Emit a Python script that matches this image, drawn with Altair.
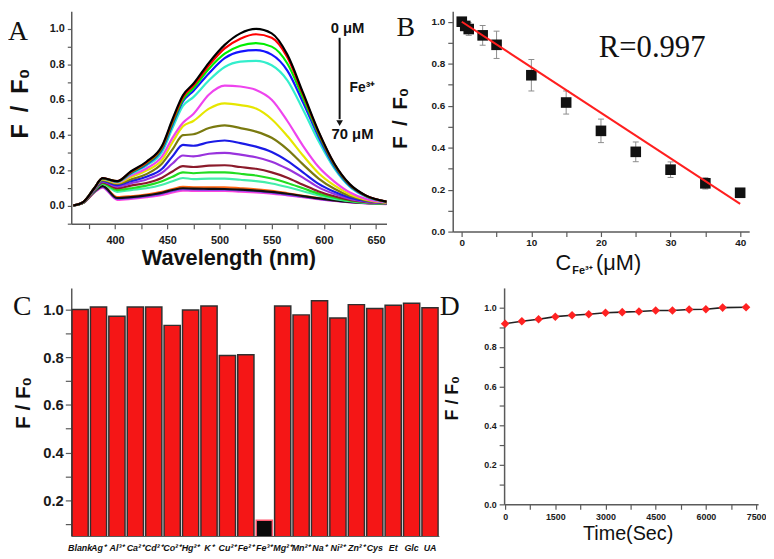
import altair as alt
import pandas as pd

# ---------------- Panel A: emission spectra (F/F0 vs wavelength) ----------------
WAVELENGTH = [360, 370, 380, 388, 402, 415, 430, 445, 455, 465, 475, 490, 505, 520, 535, 550, 565, 580, 595, 610, 625, 640, 660]
S01 = [0.003, 0.025, 0.100, 0.157, 0.140, 0.195, 0.250, 0.340, 0.490, 0.625, 0.690, 0.810, 0.910, 0.975, 1.000, 0.975, 0.855, 0.640, 0.420, 0.240, 0.122, 0.060, 0.025]
S02 = [0.003, 0.025, 0.100, 0.157, 0.140, 0.192, 0.245, 0.335, 0.480, 0.615, 0.680, 0.795, 0.890, 0.945, 0.970, 0.950, 0.840, 0.630, 0.415, 0.237, 0.120, 0.059, 0.025]
S03 = [0.003, 0.025, 0.100, 0.156, 0.139, 0.188, 0.240, 0.328, 0.470, 0.600, 0.665, 0.775, 0.860, 0.905, 0.920, 0.900, 0.805, 0.610, 0.405, 0.232, 0.117, 0.058, 0.024]
S04 = [0.003, 0.025, 0.099, 0.156, 0.138, 0.185, 0.235, 0.320, 0.460, 0.590, 0.650, 0.750, 0.835, 0.872, 0.880, 0.855, 0.765, 0.585, 0.390, 0.224, 0.113, 0.056, 0.024]
S05 = [0.003, 0.025, 0.099, 0.155, 0.136, 0.180, 0.228, 0.305, 0.440, 0.565, 0.615, 0.710, 0.785, 0.815, 0.820, 0.795, 0.710, 0.545, 0.365, 0.212, 0.107, 0.053, 0.023]
S06 = [0.003, 0.024, 0.097, 0.154, 0.133, 0.172, 0.212, 0.280, 0.385, 0.470, 0.520, 0.630, 0.680, 0.675, 0.655, 0.600, 0.480, 0.340, 0.220, 0.138, 0.076, 0.040, 0.020]
S07 = [0.003, 0.024, 0.096, 0.150, 0.130, 0.162, 0.200, 0.260, 0.360, 0.450, 0.480, 0.550, 0.580, 0.570, 0.550, 0.490, 0.395, 0.285, 0.185, 0.116, 0.065, 0.036, 0.019]
S08 = [0.003, 0.023, 0.094, 0.146, 0.125, 0.150, 0.180, 0.240, 0.320, 0.400, 0.405, 0.440, 0.455, 0.440, 0.420, 0.385, 0.320, 0.235, 0.155, 0.097, 0.056, 0.032, 0.018]
S09 = [0.003, 0.023, 0.092, 0.142, 0.118, 0.140, 0.165, 0.210, 0.280, 0.345, 0.340, 0.360, 0.370, 0.355, 0.335, 0.305, 0.255, 0.190, 0.125, 0.080, 0.047, 0.028, 0.016]
S10 = [0.003, 0.022, 0.090, 0.138, 0.110, 0.128, 0.150, 0.188, 0.240, 0.285, 0.280, 0.295, 0.300, 0.290, 0.275, 0.250, 0.210, 0.160, 0.105, 0.068, 0.040, 0.025, 0.015]
S11 = [0.003, 0.022, 0.088, 0.133, 0.100, 0.115, 0.130, 0.160, 0.195, 0.225, 0.220, 0.228, 0.230, 0.220, 0.210, 0.190, 0.160, 0.120, 0.082, 0.055, 0.034, 0.022, 0.014]
S12 = [0.003, 0.021, 0.086, 0.128, 0.090, 0.100, 0.115, 0.140, 0.165, 0.190, 0.185, 0.190, 0.190, 0.182, 0.172, 0.155, 0.130, 0.100, 0.070, 0.047, 0.030, 0.020, 0.013]
S13 = [0.003, 0.021, 0.084, 0.124, 0.080, 0.090, 0.100, 0.120, 0.140, 0.158, 0.152, 0.155, 0.155, 0.148, 0.140, 0.127, 0.107, 0.083, 0.060, 0.040, 0.027, 0.018, 0.012]
S14 = [0.003, 0.020, 0.080, 0.112, 0.045, 0.050, 0.060, 0.075, 0.090, 0.100, 0.098, 0.097, 0.096, 0.092, 0.087, 0.080, 0.069, 0.056, 0.043, 0.032, 0.023, 0.017, 0.011]
S15 = [0.003, 0.020, 0.080, 0.115, 0.050, 0.055, 0.065, 0.080, 0.095, 0.108, 0.106, 0.105, 0.105, 0.100, 0.094, 0.085, 0.072, 0.058, 0.045, 0.033, 0.024, 0.017, 0.011]
S16 = [0.003, 0.020, 0.078, 0.108, 0.040, 0.045, 0.055, 0.070, 0.085, 0.095, 0.093, 0.092, 0.092, 0.088, 0.083, 0.075, 0.064, 0.052, 0.040, 0.030, 0.022, 0.016, 0.011]
S17 = [0.003, 0.019, 0.076, 0.104, 0.035, 0.040, 0.050, 0.063, 0.076, 0.087, 0.085, 0.085, 0.085, 0.081, 0.076, 0.070, 0.060, 0.050, 0.038, 0.028, 0.020, 0.015, 0.010]
SPECTRA = [S01, S02, S03, S04, S05, S06, S07, S08, S09, S10, S11, S12, S13, S14, S15, S16, S17]
SPECTRUM_COLORS = ["#000000", "#ff0000", "#00ee00", "#1414ff", "#33eecc", "#ee44ee", "#e6e600",
                   "#7a7a10", "#1a1ae6", "#9933dd", "#8b1a2a", "#22dd22", "#44eeaa", "#111111",
                   "#ff6611", "#7744ee", "#ff44dd"]

# ---------------- Panel B: calibration ----------------
B_CONC = [0, 0.5, 1, 3, 5, 10, 15, 20, 25, 30, 35, 40]
B_RATIO = [1.0, 0.98, 0.965, 0.935, 0.89, 0.745, 0.615, 0.48, 0.38, 0.295, 0.23, 0.185]
B_ERR = [0.01, 0.02, 0.03, 0.047, 0.065, 0.075, 0.055, 0.056, 0.047, 0.037, 0.027, 0.015]
FIT_CONC = [0, 40]
FIT_RATIO = [1.0, 0.132]

# ---------------- Panel C: selectivity ----------------
C_IONS = ["Blank", "Ag⁺", "Al³⁺", "Ca²⁺", "Cd²⁺", "Co²⁺", "Hg²⁺", "K⁺", "Cu²⁺", "Fe²⁺",
          "Fe³⁺", "Mg²⁺", "Mn²⁺", "Na⁺", "Ni²⁺", "Zn²⁺", "Cys", "Et", "Glc", "UA"]
C_RATIO = [1.0, 1.01, 0.971, 1.01, 1.01, 0.933, 0.997, 1.014, 0.807, 0.81,
           0.116, 1.014, 0.977, 1.036, 0.964, 1.02, 1.004, 1.017, 1.026, 1.007]

# ---------------- Panel D: stability over time ----------------
D_TIME = [0, 500, 1000, 1500, 2000, 2500, 3000, 3500, 4000, 4500, 5000, 5500, 6000, 6500, 7200]
D_RATIO = [0.918, 0.931, 0.941, 0.954, 0.961, 0.966, 0.974, 0.977, 0.980, 0.985, 0.985, 0.990, 0.992, 1.0, 1.002]

SANS = "Liberation Sans"
SERIF = "Liberation Serif"
AXC = "#5a5a5a"
F_WIDE = "F\u2002/\u2002F\u2080"
F_TIGHT = "F / F\u2080"


def tenths(lo, hi):
    return [round(i * 0.1, 1) for i in range(lo, hi + 1)]


def lin_axis(values, fmt, major, size, tick, pad, **extra):
    return alt.Axis(
        values=values, format=fmt,
        labelExpr=f"abs(datum.value / {major} - round(datum.value / {major})) < 0.001 ? datum.label : ''",
        labelFont=SANS, labelFontSize=size, labelFontWeight="bold", labelColor="#1a1a1a",
        tickSize=tick, labelPadding=pad, labelFlush=False, labelOverlap=False,
        grid=False, domainColor=AXC, tickColor=AXC, domainWidth=1.5, tickWidth=1.2,
        **extra)


def ytitle(text, size, x, y):
    return dict(title=text, titleFont=SANS, titleFontSize=size, titleFontWeight="bold",
                titleColor="#111111", titleAngle=270, titleX=x, titleY=y,
                titleAlign="center", titleBaseline="alphabetic")


def xtitle(text, size, x, y, weight="bold"):
    return dict(title=text, titleFont=SANS, titleFontSize=size, titleFontWeight=weight,
                titleColor="#111111", titleAngle=0, titleX=x, titleY=y,
                titleAlign="center", titleBaseline="alphabetic")


def pixel_text(text, x, y, size, font=SERIF, weight="normal", align="left"):
    return alt.Chart(pd.DataFrame({"t": [text]})).mark_text(
        font=font, fontSize=size, fontWeight=weight, align=align,
        baseline="alphabetic", color="#111111"
    ).encode(text="t:N", x=alt.value(x), y=alt.value(y))


# ======== Panel A ========
A_W, A_H = 319, 215
names = [f"s{i + 1:02d}" for i in range(len(SPECTRA))]
rows = []
for i in reversed(range(len(SPECTRA))):
    for w, v in zip(WAVELENGTH, SPECTRA[i]):
        rows.append({"wl": w, "f": v, "series": names[i]})
dfA = pd.DataFrame(rows)

xA = alt.X("wl:Q", scale=alt.Scale(domain=[358, 660], nice=False, zero=False),
           axis=lin_axis(list(range(375, 651, 25)), "d", 50, 11, 5, 6,
                         **xtitle("Wavelength (nm)", 22, 159, 41)))
yA = alt.Y("f:Q", scale=alt.Scale(domain=[-0.1, 1.1], nice=False, zero=False),
           axis=lin_axis(tenths(-1, 10), ".1f", 0.2, 11, 4, 3, **ytitle(F_WIDE, 24, -44, 93)))

spectra = alt.Chart(dfA).mark_line(strokeWidth=2.2, interpolate="monotone").encode(
    x=xA, y=yA,
    color=alt.Color("series:N", scale=alt.Scale(domain=names, range=SPECTRUM_COLORS), legend=None))

arrowA = alt.Chart(pd.DataFrame({"wl": [615.1], "f": [0.95], "f2": [0.49]})).mark_rule(
    strokeWidth=2, color="#111111").encode(x=xA, y=yA, y2="f2:Q")
headA = alt.Chart(pd.DataFrame({"wl": [615.1], "f": [0.468]})).mark_point(
    shape="triangle-down", filled=True, size=45, color="#111111", opacity=1).encode(x=xA, y=yA)
concA = alt.Chart(pd.DataFrame({"wl": [622.7, 627.4], "f": [0.978, 0.381], "t": ["0 μM", "70 μM"]})).mark_text(
    font=SANS, fontSize=15, fontWeight="bold", align="center", baseline="alphabetic", color="#111111"
).encode(x=xA, y=yA, text="t:N")
feA = alt.Chart(pd.DataFrame({"wl": [624.6], "f": [0.641], "t": ["Fe³⁺"]})).mark_text(
    font=SANS, fontSize=14, fontWeight="bold", align="left", baseline="alphabetic", color="#111111"
).encode(x=xA, y=yA, text="t:N")

panelA = alt.layer(spectra, arrowA, headA, concA, feA,
                   pixel_text("A", -64, 29, 28)).properties(width=A_W, height=A_H)

# ======== Panel B ========
B_W, B_H = 300, 223
xB = alt.X("c:Q", scale=alt.Scale(domain=[-1.3, 41.3], nice=False, zero=False),
           axis=lin_axis(list(range(0, 41, 5)), "d", 10, 10, 5, 1, title=None))
yB = alt.Y("r:Q", scale=alt.Scale(domain=[0, 1.05], nice=False, zero=False),
           axis=lin_axis(tenths(0, 10), ".1f", 0.2, 10, 5, 3, **ytitle(F_WIDE, 21, -47, 108)))

lo = [r - e for r, e in zip(B_RATIO, B_ERR)]
hi = [r + e for r, e in zip(B_RATIO, B_ERR)]
errB = alt.Chart(pd.DataFrame({"c": B_CONC, "r": lo, "r2": hi})).mark_rule(
    color="#8c8c8c", strokeWidth=1).encode(x=xB, y=yB, y2="r2:Q")
capsB = alt.Chart(pd.DataFrame({"c": B_CONC + B_CONC, "r": lo + hi})).mark_tick(
    orient="horizontal", size=6, thickness=1, color="#8c8c8c", opacity=1).encode(x=xB, y=yB)
squaresB = alt.Chart(pd.DataFrame({"c": B_CONC, "r": B_RATIO})).mark_square(
    size=115, color="#111111", opacity=1).encode(x=xB, y=yB)
fitB = alt.Chart(pd.DataFrame({"c": FIT_CONC, "r": FIT_RATIO})).mark_line(
    color="#ff1f1f", strokeWidth=2).encode(x=xB, y=yB)
rB = alt.Chart(pd.DataFrame({"c": [19.7], "r": [0.831], "t": ["R=0.997"]})).mark_text(
    font=SERIF, fontSize=31, align="left", baseline="alphabetic", color="#111111"
).encode(x=xB, y=yB, text="t:N")

panelB = alt.layer(
    errB, capsB, squaresB, fitB, rB,
    pixel_text("B", -57, 25, 28),
    pixel_text("C", 104, 262, 22, font=SANS),
    pixel_text("Fe³⁺", 121, 266, 11, font=SANS, weight="bold"),
    pixel_text("(μM)", 145, 262, 22, font=SANS),
).properties(width=B_W, height=B_H)

# ======== Panel C ========
C_W, C_H = 372, 251
dfC = pd.DataFrame({"ion": C_IONS, "v": C_RATIO})
xC = alt.X("ion:N", sort=C_IONS, scale=alt.Scale(paddingInner=0.12, paddingOuter=0.04),
           axis=alt.Axis(title=None, labelAngle=0, labelFont=SANS, labelFontSize=9,
                         labelFontWeight="bold", labelFontStyle="italic", labelColor="#111111",
                         labelPadding=8, ticks=False, domainColor=AXC, domainWidth=1.2,
                         labelOverlap=False, grid=False))
yC = alt.Y("v:Q", scale=alt.Scale(domain=[0.05, 1.09], nice=False, zero=False),
           axis=lin_axis(tenths(1, 10), ".1f", 0.2, 15, 6, 2, **ytitle(F_TIGHT, 21, -42, 116)))
is_fe3 = alt.datum.ion == "Fe³⁺"
barsC = alt.Chart(dfC).mark_bar(strokeWidth=1.5, clip=True).encode(
    x=xC, y=yC,
    fill=alt.condition(is_fe3, alt.value("#0a0a0a"), alt.value("#f51616")),
    stroke=alt.condition(is_fe3, alt.value("#ff5a70"), alt.value("#303030")))
panelC = alt.layer(barsC, pixel_text("C", -59, 27, 28)).properties(width=C_W, height=C_H)

# ======== Panel D ========
D_W, D_H = 257, 219
xD = alt.X("t:Q", scale=alt.Scale(domain=[-30, 7560], nice=False, zero=False),
           axis=lin_axis(list(range(0, 7501, 750)), "d", 1500, 9, 5, 3,
                         **xtitle("Time(Sec)", 20, 125, 36, weight="normal")))
yD = alt.Y("r:Q", scale=alt.Scale(domain=[0, 1.1], nice=False, zero=False),
           axis=lin_axis(tenths(0, 10), ".1f", 0.2, 9, 5, 3, **ytitle(F_TIGHT, 18, -47, 111)))
dfD = pd.DataFrame({"t": D_TIME, "r": D_RATIO})
lineD = alt.Chart(dfD).mark_line(color="#222222", strokeWidth=1.6).encode(x=xD, y=yD)
ptsD = alt.Chart(dfD).mark_point(shape="diamond", filled=True, size=75, color="#ff2222",
                                 opacity=1).encode(x=xD, y=yD)
panelD = alt.layer(lineD, ptsD, pixel_text("D", -65, 27, 28)).properties(width=D_W, height=D_H)

row1 = alt.hconcat(panelA, panelB, spacing=67, bounds="flush")
row2 = alt.hconcat(panelC, panelD, spacing=66, bounds="flush")

chart = (
    alt.vconcat(row1, row2, spacing=12)
    .properties(padding=0, background="white")
    .configure(font=SANS)
    .configure_view(stroke=None)
)

chart.save("out.html", embed_options={"renderer": "svg", "actions": False})
